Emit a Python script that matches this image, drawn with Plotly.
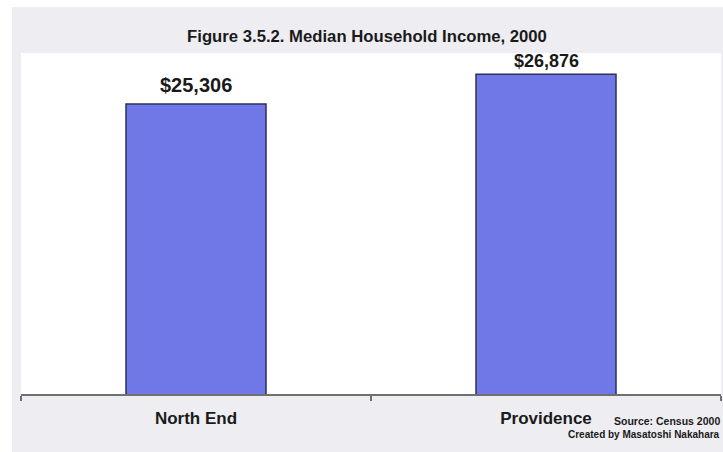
import plotly.graph_objects as go

# Median household income, 2000
areas = ["North End", "Providence"]
income = [25306, 26876]
value_labels = ["$25,306", "$26,876"]

title_text = "Figure 3.5.2. Median Household Income, 2000"
source_text = "Source: Census 2000"
credit_text = "Created by Masatoshi Nakahara"

W, H = 723, 452
ML, MR, MT, MB = 21, 2, 53, 58
plot_w = W - ML - MR
plot_h = H - MT - MB

BAR_FILL = "#6f78e6"
BAR_EDGE = "#2e2f5a"
PANEL_GRAY = "#eeedf2"
FONT = "Arial, Liberation Sans, sans-serif"

fig = go.Figure(
    go.Bar(
        x=areas,
        y=income,
        width=0.4,
        marker=dict(color=BAR_FILL, line=dict(color=BAR_EDGE, width=1.5)),
        hoverinfo="x+y",
    )
)

# value labels above each bar
label_sizes = [20, 18]
label_shift = [6, 1]
for a, v, t, s, sh in zip(areas, income, value_labels, label_sizes, label_shift):
    fig.add_annotation(
        x=a, y=v, text=f"<b>{t}</b>", showarrow=False,
        yanchor="bottom", yshift=sh,
        font=dict(family=FONT, size=s, color="#1a1a1a"),
    )

# source / credit notes, right-aligned at the lower right corner
fig.add_annotation(
    xref="paper", yref="paper",
    x=(W - 1 - ML) / plot_w, y=(H - MB - 421) / plot_h,
    text=f"<b>{source_text}</b>", showarrow=False,
    xanchor="right", yanchor="middle",
    font=dict(family=FONT, size=10.5, color="#1a1a1a"),
)
fig.add_annotation(
    xref="paper", yref="paper",
    x=(W - 1 - ML) / plot_w, y=(H - MB - 435) / plot_h,
    text=f"<b>{credit_text}</b>", showarrow=False,
    xanchor="right", yanchor="middle",
    font=dict(family=FONT, size=10, color="#1a1a1a"),
)

# thin white page strips along the top and left of the gray panel
fig.add_shape(
    type="rect", xref="paper", yref="paper", layer="below",
    x0=-ML / plot_w, x1=(W - ML) / plot_w,
    y0=(H - MB - 7) / plot_h, y1=(H - MB) / plot_h,
    fillcolor="white", line=dict(width=0),
)
fig.add_shape(
    type="rect", xref="paper", yref="paper", layer="below",
    x0=-ML / plot_w, x1=(12 - ML) / plot_w,
    y0=-MB / plot_h, y1=(H - MB) / plot_h,
    fillcolor="white", line=dict(width=0),
)

fig.update_layout(
    width=W, height=H,
    margin=dict(l=ML, r=MR, t=MT, b=MB),
    paper_bgcolor=PANEL_GRAY,
    plot_bgcolor="white",
    showlegend=False,
    title=dict(
        text=f"<b>{title_text}</b>",
        x=367 / W, xanchor="center",
        y=1 - 36 / H, yanchor="middle", yref="container",
        font=dict(family=FONT, size=16.7, color="#1a1a1a"),
    ),
    xaxis=dict(
        showline=True, linecolor="#707070", linewidth=1.5,
        ticks="outside", tickson="boundaries", ticklen=5,
        tickcolor="#707070", tickwidth=1.5,
        showgrid=False, zeroline=False,
        ticklabelstandoff=8,
        tickfont=dict(family=FONT, size=17, color="#1a1a1a", weight="bold"),
    ),
    yaxis=dict(
        range=[10000, 28000], visible=False, showgrid=False, zeroline=False,
    ),
)

fig.write_html("out.html")
